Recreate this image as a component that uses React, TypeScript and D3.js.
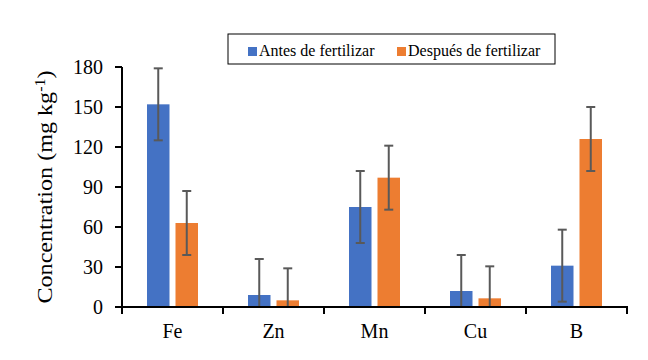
import React from "react";
import * as d3 from "d3";

const categories = ["Fe", "Zn", "Mn", "Cu", "B"];
const seriesNames = ["Antes de fertilizar", "Después de fertilizar"];
const antes = [152, 9, 75, 12, 31];
const despues = [63, 5, 97, 6.5, 126];
const antesErr = [27, 27, 27, 27, 27];
const despuesErr = [24, 24, 24, 24, 24];
const yTicks = [0, 30, 60, 90, 120, 150, 180];
const colors = ["#4472C4", "#ED7D31"];

export default function App() {
  const W = 648, H = 360;
  const left = 122, right = 627, top = 67, bottom = 307;
  const x = d3.scaleBand<string>().domain(categories).range([left, right]).padding(0);
  const y = d3.scaleLinear().domain([0, 180]).range([bottom, top]);
  const barW = 22.5, gap = 6;
  const series = [
    { vals: antes, errs: antesErr },
    { vals: despues, errs: despuesErr },
  ];
  const font = "'Times New Roman', 'Liberation Serif', serif";
  return (
    <svg width={W} height={H} style={{ position: "absolute", left: 0, top: 0, background: "#fff" }}>
      {series.map((s, si) =>
        categories.map((c, i) => {
          const cx = x(c)! + x.bandwidth() / 2;
          const bx = si === 0 ? cx - gap / 2 - barW : cx + gap / 2;
          return (
            <rect key={`b${si}${i}`} x={bx} y={y(s.vals[i])} width={barW} height={bottom - y(s.vals[i])} fill={colors[si]} />
          );
        })
      )}
      {series.map((s, si) =>
        categories.map((c, i) => {
          const cx = x(c)! + x.bandwidth() / 2;
          const mx = si === 0 ? cx - gap / 2 - barW / 2 : cx + gap / 2 + barW / 2;
          const hi = y(s.vals[i] + s.errs[i]);
          const lo = Math.min(bottom, y(s.vals[i] - s.errs[i]));
          const capLo = s.vals[i] - s.errs[i] >= 0;
          return (
            <g key={`e${si}${i}`} stroke="#595959" strokeWidth={2}>
              <line x1={mx} x2={mx} y1={hi} y2={lo} />
              <line x1={mx - 4.5} x2={mx + 4.5} y1={hi} y2={hi} />
              {capLo && <line x1={mx - 4.5} x2={mx + 4.5} y1={lo} y2={lo} />}
            </g>
          );
        })
      )}
      {/* axes */}
      <line x1={left} x2={left} y1={top} y2={bottom} stroke="#000" strokeWidth={2} />
      <line x1={left - 7} x2={right + 1} y1={bottom} y2={bottom} stroke="#000" strokeWidth={2} />
      {yTicks.map((t) => (
        <g key={`yt${t}`}>
          <line x1={left - 7} x2={left} y1={y(t)} y2={y(t)} stroke="#000" strokeWidth={2} />
          <text x={103} y={y(t)} dy="0.35em" textAnchor="end" fontFamily={font} fontSize={20} fill="#000">{t}</text>
        </g>
      ))}
      {[...categories.map((c) => x(c)!), right].map((v, i) => (
        <line key={`xt${i}`} x1={v} x2={v} y1={bottom} y2={bottom + 7} stroke="#000" strokeWidth={2} />
      ))}
      {categories.map((c) => (
        <text key={`xl${c}`} x={x(c)! + x.bandwidth() / 2} y={338} textAnchor="middle" fontFamily={font} fontSize={20} fill="#000">{c}</text>
      ))}
      <text transform={`translate(52,${(top + bottom) / 2}) rotate(-90) scale(1.15,1)`} textAnchor="middle" fontFamily={font} fontSize={21} fill="#000">
        Concentration (mg kg<tspan baselineShift="super" fontSize={14}>-1</tspan>)
      </text>
      {/* legend */}
      <rect x={228} y={34} width={327} height={30} fill="#fff" stroke="#000" strokeWidth={1} />
      <rect x={248} y={47} width={9} height={9} fill={colors[0]} />
      <text x={259} y={56} fontFamily={font} fontSize={16} fill="#000">{seriesNames[0]}</text>
      <rect x={397} y={47} width={9} height={9} fill={colors[1]} />
      <text x={408} y={56} fontFamily={font} fontSize={16} fill="#000">{seriesNames[1]}</text>
    </svg>
  );
}
